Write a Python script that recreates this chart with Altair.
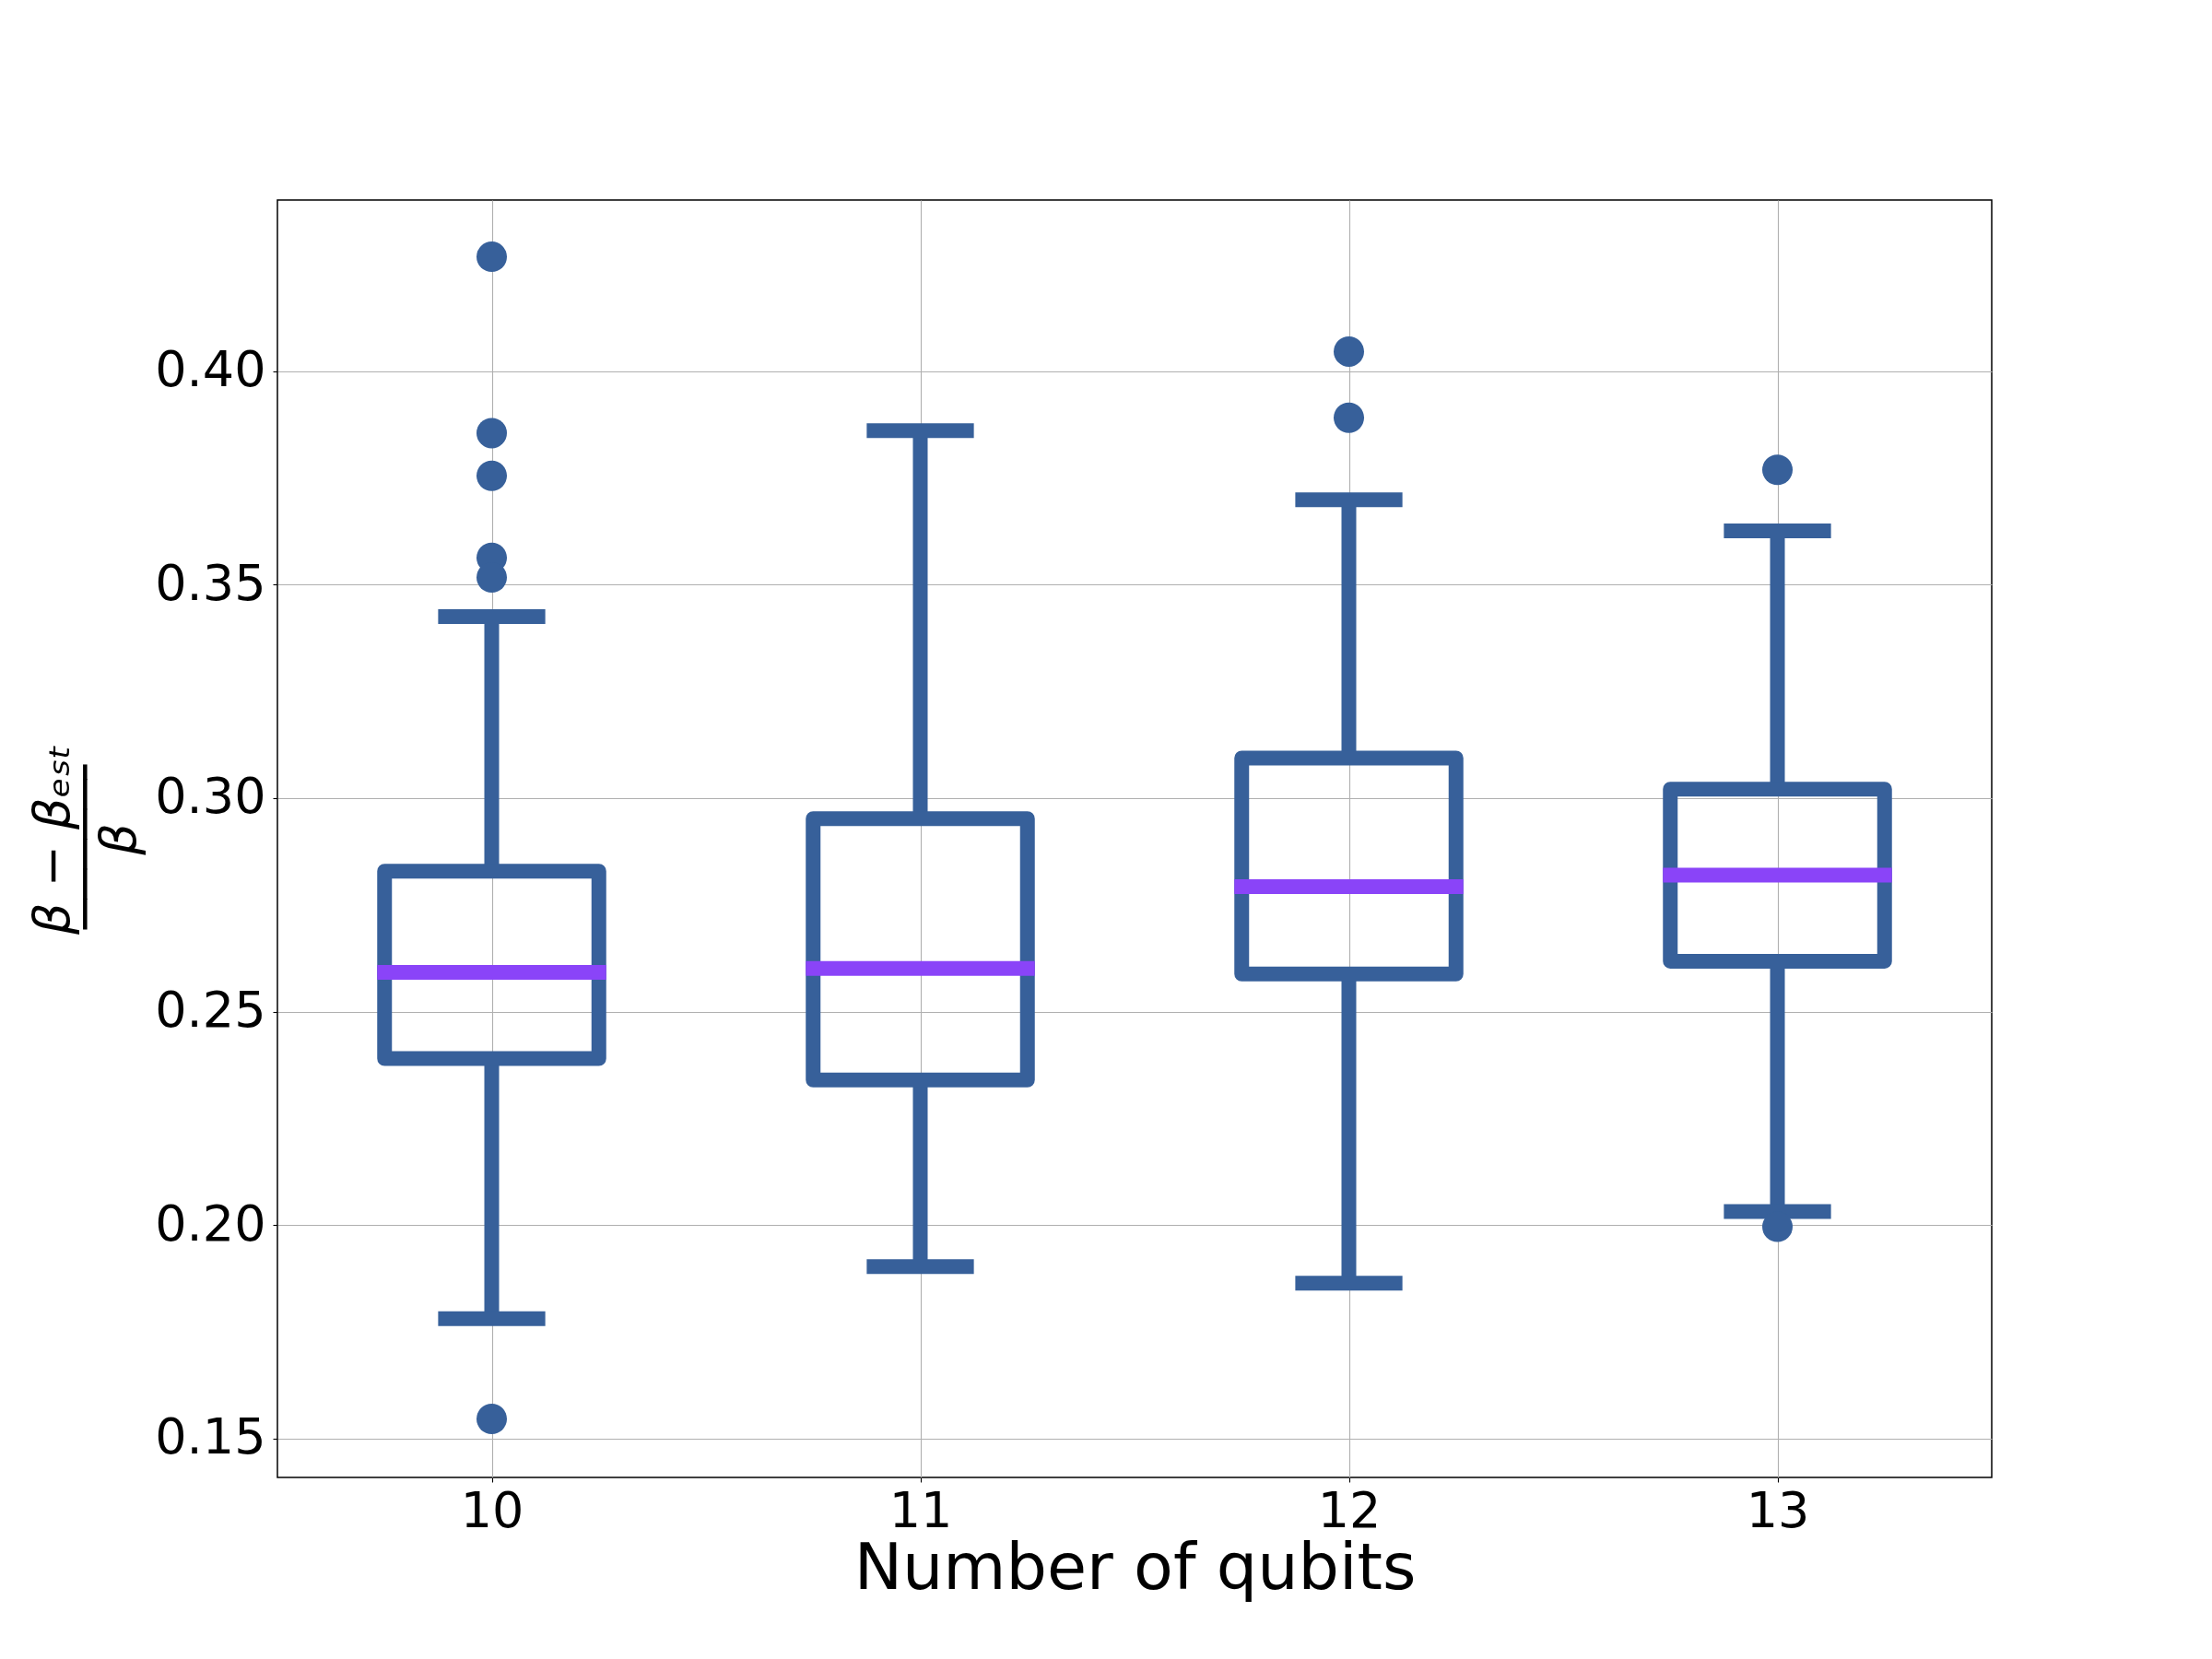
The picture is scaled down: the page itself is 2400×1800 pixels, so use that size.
import altair as alt
import pandas as pd

# ---- data ----
qubits = [10, 11, 12, 13]
q1 = [0.2390, 0.2340, 0.2588, 0.2618]
median = [0.2592, 0.2601, 0.2793, 0.2820]
q3 = [0.2829, 0.2952, 0.3094, 0.3021]
whisker_low = [0.1781, 0.1903, 0.1864, 0.2032]
whisker_high = [0.3425, 0.3861, 0.3699, 0.3626]

outlier_qubits = [10, 10, 10, 10, 10, 10, 12, 12, 13, 13]
outlier_values = [0.4268, 0.3855, 0.3755, 0.3563, 0.3517, 0.1546,
                  0.4046, 0.3891, 0.3769, 0.1996]

y_ticks = [0.15, 0.20, 0.25, 0.30, 0.35, 0.40]

BLUE = "#37609a"
PURPLE = "#8a44f8"
FONT = "DejaVu Sans"
LW = 16

box_df = pd.DataFrame({"n": qubits, "q1": q1, "med": median, "q3": q3,
                       "lo": whisker_low, "hi": whisker_high})
out_df = pd.DataFrame({"n": outlier_qubits, "v": outlier_values})

xscale = alt.Scale(domain=[9.5, 13.5], nice=False, zero=False)
yscale = alt.Scale(domain=[0.1409, 0.4401], nice=False, zero=False)

x_axis = alt.Axis(values=qubits, format="d", title="Number of qubits",
                  labelPadding=5, titlePadding=1, titleFontSize=70,
                  titleFontWeight="normal")
y_axis = alt.Axis(values=y_ticks, format=".2f",
                  title=["β − βₑₛₜ", "─────╴", "β"],
                  labelPadding=8, titlePadding=10, titleFontSize=54,
                  titleFontStyle="italic", titleFontWeight="normal",
                  titleLineHeight=36)

base = alt.Chart(box_df)

whisk_hi = base.mark_rule(color=BLUE, strokeWidth=LW).encode(
    x=alt.X("n:Q", scale=xscale, axis=x_axis),
    y=alt.Y("q3:Q", scale=yscale, axis=y_axis),
    y2="hi:Q",
)
whisk_lo = base.mark_rule(color=BLUE, strokeWidth=LW).encode(
    x=alt.X("n:Q", scale=xscale, axis=x_axis),
    y=alt.Y("lo:Q", scale=yscale, axis=y_axis),
    y2="q1:Q",
)
cap_base = base.transform_calculate(c1="datum.n - 0.125", c2="datum.n + 0.125")
cap_hi = cap_base.mark_rule(color=BLUE, strokeWidth=LW).encode(
    x=alt.X("c1:Q", scale=xscale, axis=x_axis), x2="c2:Q",
    y=alt.Y("hi:Q", scale=yscale, axis=y_axis),
)
cap_lo = cap_base.mark_rule(color=BLUE, strokeWidth=LW).encode(
    x=alt.X("c1:Q", scale=xscale, axis=x_axis), x2="c2:Q",
    y=alt.Y("lo:Q", scale=yscale, axis=y_axis),
)
box_base = base.transform_calculate(b1="datum.n - 0.25", b2="datum.n + 0.25")
box = box_base.mark_rect(fill="transparent", stroke=BLUE, strokeWidth=LW,
                         strokeJoin="round").encode(
    x=alt.X("b1:Q", scale=xscale, axis=x_axis), x2="b2:Q",
    y=alt.Y("q1:Q", scale=yscale, axis=y_axis), y2="q3:Q",
)
med = box_base.mark_rule(color=PURPLE, strokeWidth=LW, strokeCap="square").encode(
    x=alt.X("b1:Q", scale=xscale, axis=x_axis), x2="b2:Q",
    y=alt.Y("med:Q", scale=yscale, axis=y_axis),
)
outl = alt.Chart(out_df).mark_circle(color=BLUE, size=1089, opacity=1).encode(
    x=alt.X("n:Q", scale=xscale, axis=x_axis),
    y=alt.Y("v:Q", scale=yscale, axis=y_axis),
)

chart = alt.layer(whisk_hi, whisk_lo, cap_hi, cap_lo, box, med, outl).properties(
    width=1860, height=1386,
    padding={"top": 209, "left": 23, "right": 10, "bottom": 10},
    background="white",
).configure_view(
    stroke="black", strokeWidth=1.5
).configure_axis(
    grid=True, gridColor="#b0b0b0", gridWidth=1.1,
    domain=False, tickColor="black", tickSize=5, tickWidth=1.1,
    labelFont=FONT, labelFontSize=54, labelColor="black",
    titleFont=FONT, titleColor="black",
)

chart.save("out.html", embed_options={"renderer": "svg", "actions": False})
